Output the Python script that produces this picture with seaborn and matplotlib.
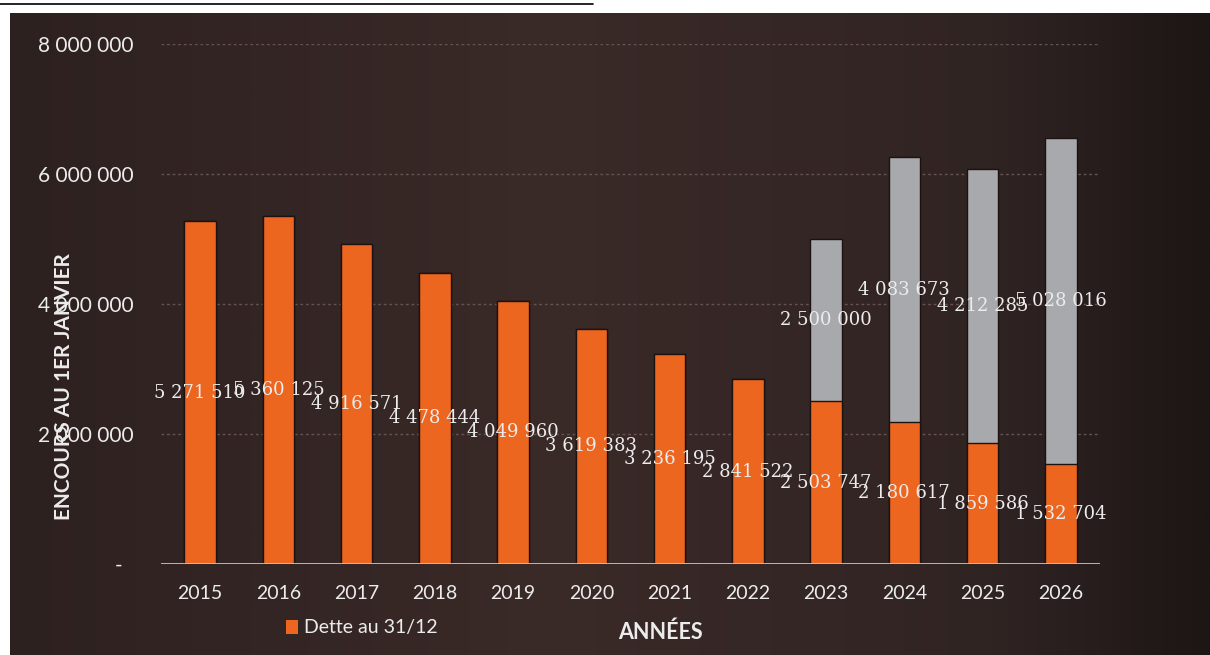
import numpy as np
import pandas as pd
import matplotlib
matplotlib.use("Agg")
import matplotlib.pyplot as plt
import seaborn as sns
from matplotlib.colors import LinearSegmentedColormap
from matplotlib.patches import Patch
from matplotlib.lines import Line2D

# ---- data ----
years = ["2015", "2016", "2017", "2018", "2019", "2020", "2021", "2022", "2023", "2024", "2025", "2026"]
dette = [5271510, 5360125, 4916571, 4478444, 4049960, 3619383, 3236195, 2841522, 2503747, 2180617, 1859586, 1532704]
nouveaux = [0, 0, 0, 0, 0, 0, 0, 0, 2500000, 4083673, 4212285, 5028016]
y_ticks = [0, 2000000, 4000000, 6000000, 8000000]
y_tick_labels = ["-  ", "2 000 000", "4 000 000", "6 000 000", "8 000 000"]
legend_label = "Dette au 31/12"
y_title = "ENCOURS AU 1ER JANVIER"
x_title = "ANNÉES"

ORANGE = "#ec6620"
GREY = "#a8a9ad"
TXT = "#ececec"

def fmt(v):
    return f"{v:,}".replace(",", " ")

sns.set_theme(style="white")
plt.rcParams["font.family"] = ["Lato", "DejaVu Sans"]

W, H = 1210, 655
fig = plt.figure(figsize=(W / 100, H / 100), dpi=100, facecolor="white")

# background panel with gradient
bg = fig.add_axes([10 / W, 0, 1 - 10 / W, 1 - 13 / H])
bg.set_axis_off()
cmap = LinearSegmentedColormap.from_list(
    "bg", [(0.0, "#2d2120"), (0.45, "#3a2a28"), (0.82, "#302423"), (1.0, "#1c1615")])
grad = np.linspace(0, 1, 512).reshape(1, -1)
bg.imshow(grad, aspect="auto", cmap=cmap, extent=[0, 1, 0, 1])
bg.set_xlim(0, 1)
bg.set_ylim(0, 1)

# underline of cropped text at top
fig.add_artist(Line2D([0, 593 / W], [1 - 4 / H, 1 - 4 / H], transform=fig.transFigure,
                      color="black", lw=1.2))

# main axes
left, right = 161, 1100
top, bottom = 44, 564
ax = fig.add_axes([left / W, 1 - bottom / H, (right - left) / W, (bottom - top) / H])
ax.set_facecolor("none")

df = pd.DataFrame({"year": years, "dette": dette, "nouveaux": nouveaux})
df["total"] = df["dette"] + df["nouveaux"]

sns.barplot(data=df, x="year", y="total", color=GREY, saturation=1, width=0.4,
            edgecolor="#1c1212", linewidth=1.0, ax=ax, zorder=2)
sns.barplot(data=df, x="year", y="dette", color=ORANGE, saturation=1, width=0.4,
            edgecolor="#1c1212", linewidth=1.0, ax=ax, zorder=3)

ax.set_ylim(0, 8000000)
ax.set_xlim(-0.5, len(years) - 0.5)

# grid lines
for t in y_ticks[1:]:
    ax.axhline(t, color="#655351", lw=1.0, ls=(0, (2, 2)), zorder=1)
ax.axhline(0, color="#c4c4c4", lw=2.0, zorder=4)

for s in ax.spines.values():
    s.set_visible(False)

ax.set_yticks(y_ticks)
ax.set_yticklabels(y_tick_labels)
ax.tick_params(axis="y", length=0, pad=20, labelsize=15, labelcolor=TXT)
ax.tick_params(axis="x", length=0, pad=15, labelsize=14, labelcolor=TXT)
ax.set_xlabel("")
ax.set_ylabel("")

# data labels
for i, (d, n) in enumerate(zip(dette, nouveaux)):
    ax.text(i, d / 2, fmt(d), ha="center", va="center", color=TXT,
            fontsize=13, family="DejaVu Serif", zorder=6)
    if n > 0:
        ax.text(i, d + n / 2, fmt(n), ha="center", va="center", color=TXT,
                fontsize=13, family="DejaVu Serif", zorder=6)

# axis titles
fig.text(64 / W, 1 - 387 / H, y_title, rotation=90, ha="center", va="center",
         color=TXT, fontsize=15, fontweight="bold")
fig.text(660 / W, 1 - 632 / H, x_title, ha="center", va="center",
         color=TXT, fontsize=15.5, fontweight="bold")

# legend
handle = Patch(facecolor=ORANGE, edgecolor="none")
fig.legend([handle], [legend_label], loc="center", bbox_to_anchor=(362 / W, 1 - 628 / H),
           frameon=False, fontsize=14, labelcolor=TXT, handlelength=0.6, handleheight=0.7,
           handletextpad=0.3, borderpad=0)

fig.savefig("out.png", dpi=100, facecolor="white")
